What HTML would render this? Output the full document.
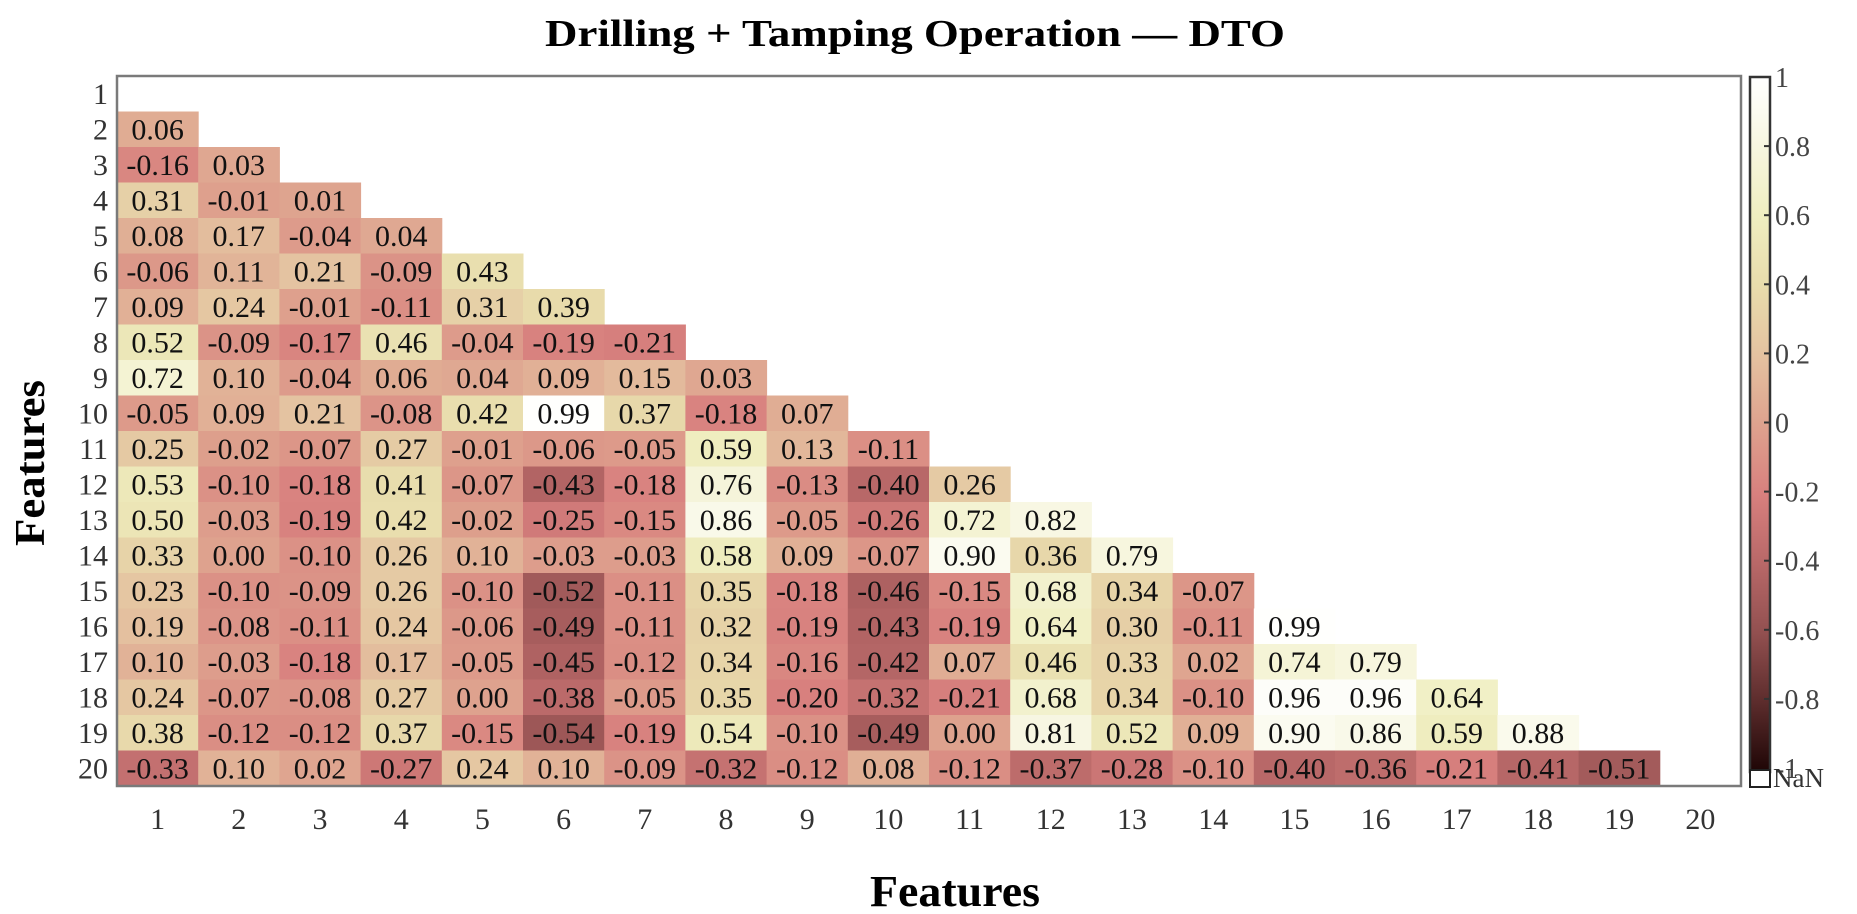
<!DOCTYPE html>
<html><head><meta charset="utf-8"><style>
html,body{margin:0;padding:0;background:#fff;}
svg{display:block;font-family:"Liberation Serif",serif;}
</style></head><body>
<svg id="chart" width="1857" height="914" viewBox="0 0 1857 914">
<text x="915" y="46" text-anchor="middle" font-size="38" font-weight="bold" textLength="740" lengthAdjust="spacingAndGlyphs">Drilling + Tamping Operation — DTO</text>
<text x="955" y="906" text-anchor="middle" font-size="44" font-weight="bold" textLength="170" lengthAdjust="spacingAndGlyphs">Features</text>
<text transform="translate(44,463) rotate(-90)" text-anchor="middle" font-size="42" font-weight="bold" textLength="166" lengthAdjust="spacingAndGlyphs">Features</text>
<g id="cells"></g>
<rect x="117" y="76" width="1624" height="710" fill="none" stroke="#7a7a7a" stroke-width="2.5"/>
<g id="xticks"></g><g id="yticks"></g>
<defs><linearGradient id="cbgrad" x1="0" y1="1" x2="0" y2="0"></linearGradient></defs>
<rect x="1750" y="77" width="20" height="695" fill="url(#cbgrad)" stroke="#333" stroke-width="2.5"/>
<g id="cbticks"></g>
<rect x="1750" y="770" width="20" height="17" fill="#fff" stroke="#222" stroke-width="2"/>
<text x="1773" y="787" font-size="27" fill="#333">NaN</text>
</svg>
<script>
const features = ["1","2","3","4","5","6","7","8","9","10","11","12","13","14","15","16","17","18","19","20"];
const row2 = [0.06];
const row3 = [-0.16,0.03];
const row4 = [0.31,-0.01,0.01];
const row5 = [0.08,0.17,-0.04,0.04];
const row6 = [-0.06,0.11,0.21,-0.09,0.43];
const row7 = [0.09,0.24,-0.01,-0.11,0.31,0.39];
const row8 = [0.52,-0.09,-0.17,0.46,-0.04,-0.19,-0.21];
const row9 = [0.72,0.10,-0.04,0.06,0.04,0.09,0.15,0.03];
const row10 = [-0.05,0.09,0.21,-0.08,0.42,0.99,0.37,-0.18,0.07];
const row11 = [0.25,-0.02,-0.07,0.27,-0.01,-0.06,-0.05,0.59,0.13,-0.11];
const row12 = [0.53,-0.10,-0.18,0.41,-0.07,-0.43,-0.18,0.76,-0.13,-0.40,0.26];
const row13 = [0.50,-0.03,-0.19,0.42,-0.02,-0.25,-0.15,0.86,-0.05,-0.26,0.72,0.82];
const row14 = [0.33,0.00,-0.10,0.26,0.10,-0.03,-0.03,0.58,0.09,-0.07,0.90,0.36,0.79];
const row15 = [0.23,-0.10,-0.09,0.26,-0.10,-0.52,-0.11,0.35,-0.18,-0.46,-0.15,0.68,0.34,-0.07];
const row16 = [0.19,-0.08,-0.11,0.24,-0.06,-0.49,-0.11,0.32,-0.19,-0.43,-0.19,0.64,0.30,-0.11,0.99];
const row17 = [0.10,-0.03,-0.18,0.17,-0.05,-0.45,-0.12,0.34,-0.16,-0.42,0.07,0.46,0.33,0.02,0.74,0.79];
const row18 = [0.24,-0.07,-0.08,0.27,-0.00,-0.38,-0.05,0.35,-0.20,-0.32,-0.21,0.68,0.34,-0.10,0.96,0.96,0.64];
const row19 = [0.38,-0.12,-0.12,0.37,-0.15,-0.54,-0.19,0.54,-0.10,-0.49,0.00,0.81,0.52,0.09,0.90,0.86,0.59,0.88];
const row20 = [-0.33,0.10,0.02,-0.27,0.24,0.10,-0.09,-0.32,-0.12,0.08,-0.12,-0.37,-0.28,-0.10,-0.40,-0.36,-0.21,-0.41,-0.51];
const rows = [[],row2,row3,row4,row5,row6,row7,row8,row9,row10,row11,row12,row13,row14,row15,row16,row17,row18,row19,row20];
const cbTicks = [1,0.8,0.6,0.4,0.2,0,-0.2,-0.4,-0.6,-0.8,-1];

const NS="http://www.w3.org/2000/svg";
const X0=117,Y0=76,CW=1624/20,CH=710/20;
const xPos=i=>X0+i*CW, yPos=i=>Y0+i*CH;
const CB_TOP=77,CB_BOT=768;
const cbY=v=>CB_BOT-(v+1)/2*(CB_BOT-CB_TOP);
const stops=[[-1,[30,5,5]],[-0.8,[92,44,44]],[-0.6,[146,80,80]],[-0.4,[184,104,104]],[-0.2,[216,128,126]],[0,[222,162,142]],[0.2,[228,194,160]],[0.4,[232,220,172]],[0.6,[239,238,192]],[0.8,[247,246,224]],[1,[255,255,255]]];
function color(v){
  for(let i=0;i<stops.length-1;i++){
    const [a,ca]=stops[i],[b,cb]=stops[i+1];
    if(v<=b){const t=(v-a)/(b-a);const c=ca.map((x,k)=>Math.round(x+(cb[k]-x)*t));return `rgb(${c})`;}
  }
  return "#fff";
}
function el(tag,attrs,parent){const e=document.createElementNS(NS,tag);for(const k in attrs)e.setAttribute(k,attrs[k]);parent.appendChild(e);return e;}

const cells=document.getElementById("cells");
rows.forEach((r,ri)=>{
  r.forEach((v,ci)=>{
    const rect=el("rect",{x:xPos(ci),y:yPos(ri),width:CW+0.5,height:CH+0.5,fill:color(v)},cells);
    
    
    const t=el("text",{x:xPos(ci)+CW/2,y:yPos(ri)+CH/2+10,"text-anchor":"middle","font-size":30,fill:"#111"},cells);
    
    
    t.textContent=v.toFixed(2);
  });
});
const xg=document.getElementById("xticks"),yg=document.getElementById("yticks");
features.forEach((f,i)=>{
  const t=el("text",{x:xPos(i)+CW/2,y:829,"text-anchor":"middle","font-size":30,fill:"#333"},xg);
  
  
  t.textContent=f;
  const u=el("text",{x:108,y:yPos(i)+CH/2+10,"text-anchor":"end","font-size":30,fill:"#333"},yg);
  
  
  u.textContent=f;
});
const grad=document.getElementById("cbgrad");
for(let i=0;i<=20;i++){const v=-1+i*0.1;el("stop",{offset:(i/20),"stop-color":color(v)},grad);}
const cbg=document.getElementById("cbticks");
cbTicks.forEach(v=>{
  const y=cbY(v);
  if(v!==1&&v!==-1){const l=el("line",{x1:1764,x2:1770,y1:y,y2:y,stroke:"#333","stroke-width":2},cbg);
  
  }
  const t=el("text",{x:1775,y:y+10,"font-size":28,fill:"#444"},cbg);
  
  
  t.textContent=String(v);
});
</script>
</body></html>
